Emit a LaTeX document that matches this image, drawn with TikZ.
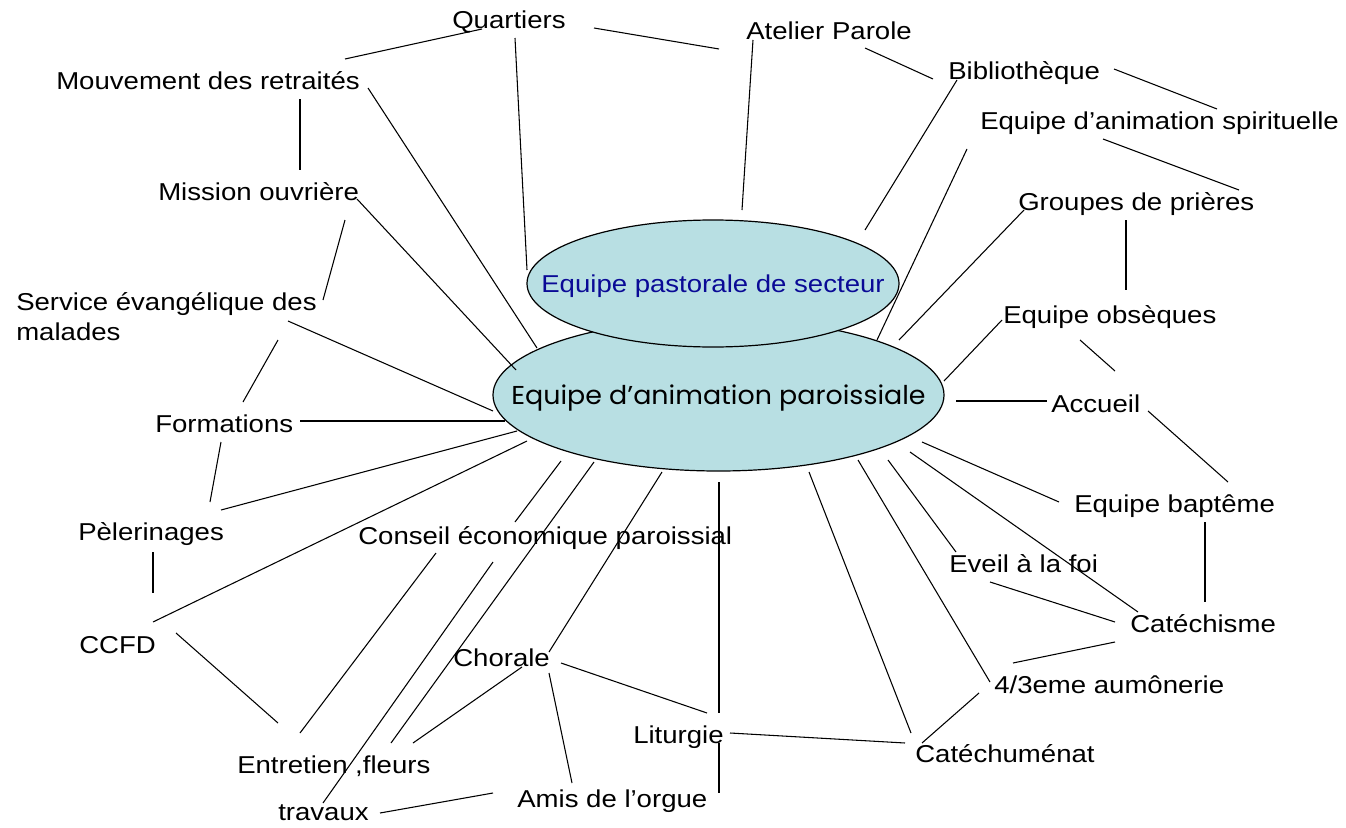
\documentclass[tikz,border=0pt]{standalone}
\usepackage{fontspec}
\setmainfont[FakeStretch=1.13]{Liberation Sans}
\newfontfamily\gothfont[FakeStretch=1.04]{Poppins}
\usepackage{xcolor}
\usetikzlibrary{shapes.geometric}

\definecolor{ovalfill}{RGB}{184,223,227}
\definecolor{epsblue}{RGB}{10,10,150}

% one connector, ends given as offsets from named anchors
\newcommand\lnk[4]{\draw[link] ([shift={(#2)}]#1) -- ([shift={(#4)}]#3);}

\begin{document}
\begin{tikzpicture}[x=0.75pt, y=-0.75pt,
        lbl/.style={inner sep=0, anchor=base west, font=\fontsize{18.3}{22.5}\selectfont},
        oval/.style={ellipse, draw, fill=ovalfill, line width=0.9pt, inner xsep=-120pt, inner ysep=0pt, text depth=0pt},
        link/.style={line width=0.8pt}]
        \useasboundingbox (0,0) rectangle (1346,828);

        \node[oval, minimum width=338.25pt, minimum height=114pt,
              font=\gothfont\fontsize{19.4}{22}\selectfont] (eap) at (718.5,395) {Equipe d’animation paroissiale};
        \node[oval, minimum width=279pt, minimum height=95.25pt, text=epsblue,
              font=\fontsize{18.3}{22}\selectfont] (eps) at (713,283.5) {Equipe pastorale de secteur};

        \node[lbl] (quart) at (452,28) {Quartiers};
        \node[lbl] (atel) at (746,39) {Atelier Parole};
        \node[lbl] (biblio) at (948,79) {Bibliothèque};
        \node[lbl] (spirit) at (980,129) {Equipe d’animation spirituelle};
        \node[lbl] (mouv) at (56,89) {Mouvement des retraités};
        \node[lbl] (mission) at (158,200) {Mission ouvrière};
        \node[lbl] (prieres) at (1018,210) {Groupes de prières};
        \node[lbl, align=left] (service) at (16,340) {Service évangélique des\\malades};
        \node[lbl] (formations) at (155,432) {Formations};
        \node[lbl] (peler) at (78,540) {Pèlerinages};
        \node[lbl] (ccfd) at (79,653) {CCFD};
        \node[lbl] (conseil) at (358,544) {Conseil économique paroissial};
        \node[lbl] (entretien) at (237,773) {Entretien ,fleurs};
        \node[lbl] (travaux) at (278,820) {travaux};
        \node[lbl] (chorale) at (453,666) {Chorale};
        \node[lbl] (liturgie) at (633,743) {Liturgie};
        \node[lbl] (amis) at (517,807) {Amis de l’orgue};
        \node[lbl] (obseques) at (1003,323) {Equipe obsèques};
        \node[lbl] (accueil) at (1051,412) {Accueil};
        \node[lbl] (bapteme) at (1074,512) {Equipe baptême};
        \node[lbl] (eveil) at (949,572) {Eveil à la foi};
        \node[lbl] (catechisme) at (1130,632) {Catéchisme};
        \node[lbl] (aumonerie) at (994,693) {4/3eme aumônerie};
        \node[lbl] (catechumenat) at (915,762) {Catéchuménat};

        % top
        \lnk{quart.base west}{30,1}{mouv.base west}{289,-30}
        \lnk{quart.base west}{142,0}{atel.base west}{-27,10}
        \lnk{quart.base west}{63,10}{eps.center}{-186,-13.5}
        \lnk{atel.base west}{7,1}{eps.center}{29,-73.5}
        \lnk{atel.base west}{119,9}{biblio.base west}{-15,0}
        \lnk{biblio.base west}{9,1}{eps.center}{152,-53.5}
        \lnk{biblio.base west}{166,-10}{spirit.base west}{237,-20}
        % right
        \lnk{spirit.base west}{123,10}{prieres.base west}{221,-20}
        \lnk{spirit.base west}{-13,20}{eap.center}{158.5,-55}
        \lnk{prieres.base west}{6,0}{eap.center}{180.5,-55}
        \lnk{prieres.base west}{108,10}{obseques.base west}{123,-33}
        \lnk{obseques.base west}{-1,-3}{eap.center}{225.5,-14}
        \lnk{obseques.base west}{77,17}{accueil.base west}{64,-41}
        \lnk{eap.center}{237.5,6}{accueil.base west}{-4,-11}
        \lnk{accueil.base west}{97,-1}{bapteme.base west}{154,-30}
        \lnk{eap.center}{203.5,47}{bapteme.base west}{-15,-10}
        \lnk{bapteme.base west}{131,10}{catechisme.base west}{75,-30}
        \lnk{eap.center}{191.5,57}{catechisme.base west}{8,-20}
        \lnk{eap.center}{169.5,65}{eveil.base west}{7,-20}
        \lnk{eveil.base west}{41,10}{catechisme.base west}{-15,-10}
        \lnk{catechisme.base west}{-15,10}{aumonerie.base west}{19,-30}
        \lnk{eap.center}{139.5,65}{aumonerie.base west}{-4,-11}
        \lnk{aumonerie.base west}{-15,0}{catechumenat.base west}{7,-19}
        \lnk{eap.center}{90.5,77}{catechumenat.base west}{-4,-29}
        % bottom
        \lnk{liturgie.base west}{97,-10}{catechumenat.base west}{-10,-19}
        \lnk{eap.center}{0.5,87}{liturgie.base west}{86,-30}
        \lnk{liturgie.base west}{86,0}{amis.base west}{202,-14}
        \lnk{chorale.base west}{96,7}{amis.base west}{55,-24}
        \lnk{chorale.base west}{108,-3}{liturgie.base west}{74,-30}
        \lnk{eap.center}{-56.5,77}{chorale.base west}{96,-14}
        \lnk{chorale.base west}{69,1}{entretien.base west}{176,-30}
        \lnk{eap.center}{-124.5,67}{entretien.base west}{154,-30}
        \lnk{eap.center}{-157.5,66}{conseil.base west}{157,-22}
        \lnk{conseil.base west}{135,18}{travaux.base west}{45,-17}
        \lnk{travaux.base west}{102,-7}{amis.base west}{-24,-14}
        \lnk{conseil.base west}{78,9}{entretien.base west}{63,-40}
        % left
        \lnk{ccfd.base west}{97,-20}{entretien.base west}{41,-50}
        \lnk{ccfd.base west}{74,-31}{eap.center}{-191.5,46}
        \lnk{peler.base west}{75,12}{ccfd.base west}{74,-60}
        \lnk{peler.base west}{143,-30}{eap.center}{-201.5,36}
        \lnk{formations.base west}{66,10}{peler.base west}{132,-38}
        \lnk{formations.base west}{145,-11}{eap.center}{-213.5,26}
        \lnk{service.base west}{262,0}{formations.base west}{88,-30}
        \lnk{service.base west}{272,-19}{eap.center}{-225.5,16}
        \lnk{mission.base west}{187,20}{service.base west}{307,-40}
        \lnk{mission.base west}{199,-1}{eap.center}{-202.5,-25}
        \lnk{mouv.base west}{244,10}{mission.base west}{142,-30}
        \lnk{mouv.base west}{312,-1}{eap.center}{-181.5,-47}
\end{tikzpicture}
\end{document}
